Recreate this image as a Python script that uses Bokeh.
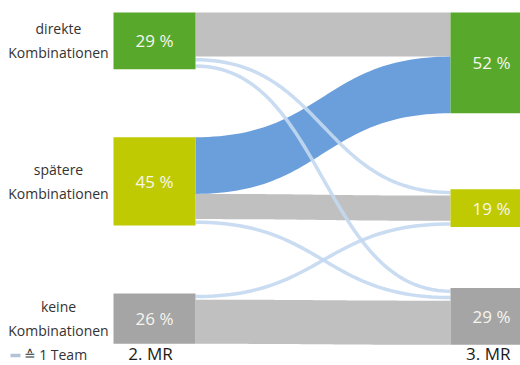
import numpy as np
from bokeh.plotting import figure
from bokeh.models import Range1d
from bokeh.core.properties import value
from bokeh.embed import file_html
from bokeh.resources import INLINE

# ---------------- data ----------------
categories = ["direkte\nKombinationen", "spätere\nKombinationen", "keine\nKombinationen"]
stage_labels = ["2. MR", "3. MR"]
left_pct = [29, 45, 26]
right_pct = [52, 19, 29]
# team flows from category in 2. MR (src) to category in 3. MR (dst)
flow_src = [0, 0, 0, 1, 1, 1, 2, 2]
flow_dst = [0, 1, 2, 0, 1, 2, 1, 2]
flow_teams = [7, 1, 1, 9, 4, 1, 1, 7]
legend_label = "≙ 1 Team"

# ---------------- layout / style ----------------
W, H = 520, 365
UNIT = 6.3
TOP = 12
LEFT_GAPS = [68, 68]
RIGHT_GAPS = [76, 61]
XL0, XL1 = 113, 195
XR0, XR1 = 450, 520
NODE_COLORS = ["#58a92b", "#bfca02", "#a5a5a5"]
STAY_COLOR = "#c0c0c0"
UP_COLOR = "#6b9fdb"
THIN_COLOR = "#c3d8ef"
FONT = value("Open Sans")

n = len(categories)
left_teams = [sum(t for s, t in zip(flow_src, flow_teams) if s == i) for i in range(n)]
right_teams = [sum(t for d, t in zip(flow_dst, flow_teams) if d == i) for i in range(n)]


def tops(teams, gaps):
    out, y = [], TOP
    for i, t in enumerate(teams):
        out.append(y)
        y += t * UNIT
        if i < len(gaps):
            y += gaps[i]
    return out


left_top = tops(left_teams, LEFT_GAPS)
right_top = tops(right_teams, RIGHT_GAPS)

p = figure(width=W, height=H, x_range=Range1d(0, W), y_range=Range1d(H, 0),
           output_backend="svg", toolbar_location=None, min_border=0,
           x_axis_location=None, y_axis_location=None)
p.grid.visible = False
p.outline_line_color = None
p.background_fill_color = "white"
p.border_fill_color = "white"

# flow slot positions
order = list(range(len(flow_teams)))
src_off = {}
acc = [0.0] * n
for k in sorted(order, key=lambda k: (flow_src[k], flow_dst[k])):
    src_off[k] = left_top[flow_src[k]] + acc[flow_src[k]]
    acc[flow_src[k]] += flow_teams[k] * UNIT
dst_off = {}
acc = [0.0] * n
for k in sorted(order, key=lambda k: (flow_dst[k], flow_src[k])):
    dst_off[k] = right_top[flow_dst[k]] + acc[flow_dst[k]]
    acc[flow_dst[k]] += flow_teams[k] * UNIT

t = np.linspace(0, 1, 60)
xm = (XL1 + XR0) / 2


def bez(y0, y1):
    xs = (1 - t) ** 3 * XL1 + 3 * (1 - t) ** 2 * t * xm + 3 * (1 - t) * t ** 2 * xm + t ** 3 * XR0
    ys = (1 - t) ** 3 * y0 + 3 * (1 - t) ** 2 * t * y0 + 3 * (1 - t) * t ** 2 * y1 + t ** 3 * y1
    return xs, ys


band_xs, band_ys, band_col = [], [], []
line_xs, line_ys = [], []
for k in order:
    th = flow_teams[k] * UNIT
    a0, a1 = src_off[k], dst_off[k]
    if flow_teams[k] == 1:
        xs, ys = bez(a0 + th / 2, a1 + th / 2)
        line_xs.append(list(xs))
        line_ys.append(list(ys))
    else:
        xt, yt = bez(a0, a1)
        xb, yb = bez(a0 + th, a1 + th)
        band_xs.append(list(xt) + list(xb[::-1]))
        band_ys.append(list(yt) + list(yb[::-1]))
        band_col.append(STAY_COLOR if flow_src[k] == flow_dst[k] else UP_COLOR)

p.patches(band_xs, band_ys, fill_color=band_col, line_color=None)
p.multi_line(line_xs, line_ys, line_color=THIN_COLOR, line_width=3.5, line_alpha=0.9)

# nodes
p.quad(left=[XL0] * n, right=[XL1] * n, top=left_top,
       bottom=[y + tm * UNIT for y, tm in zip(left_top, left_teams)],
       fill_color=NODE_COLORS, line_color=None)
p.quad(left=[XR0] * n, right=[XR1] * n, top=right_top,
       bottom=[y + tm * UNIT for y, tm in zip(right_top, right_teams)],
       fill_color=NODE_COLORS, line_color=None)

# percent labels
lc = [y + tm * UNIT / 2 for y, tm in zip(left_top, left_teams)]
rc = [y + tm * UNIT / 2 for y, tm in zip(right_top, right_teams)]
p.text(x=[(XL0 + XL1) / 2] * n, y=lc, text=[f"{v} %" for v in left_pct],
       text_font=FONT, text_font_size="17px", text_color="#f6f6ee",
       text_align="center", text_baseline="middle")
p.text(x=[XR1 - 10] * n, y=rc, text=[f"{v} %" for v in right_pct],
       text_font=FONT, text_font_size="17px", text_color="#f6f6ee",
       text_align="right", text_baseline="middle")

# category labels
p.text(x=[58] * n, y=lc, text=categories, text_font=FONT, text_font_size="14px",
       text_color="#333333", text_align="center", text_baseline="middle",
       text_line_height=1.25)

# stage labels
p.text(x=[(XL0 + XL1) / 2 - 4], y=[353], text=[stage_labels[0]], text_font=FONT,
       text_font_size="17px", text_color="#1a1a1a", text_align="center",
       text_baseline="middle")
p.text(x=[XR1 - 10], y=[353], text=[stage_labels[1]], text_font=FONT,
       text_font_size="17px", text_color="#1a1a1a", text_align="right",
       text_baseline="middle")

# legend
p.segment(x0=[10], y0=[355], x1=[20], y1=[355], line_color="#b4c4d6", line_width=3.5)
p.text(x=[23], y=[354], text=[legend_label], text_font=FONT, text_font_size="14px",
       text_color="#333333", text_align="left", text_baseline="middle")

open("out.html", "w").write(file_html(p, INLINE))
